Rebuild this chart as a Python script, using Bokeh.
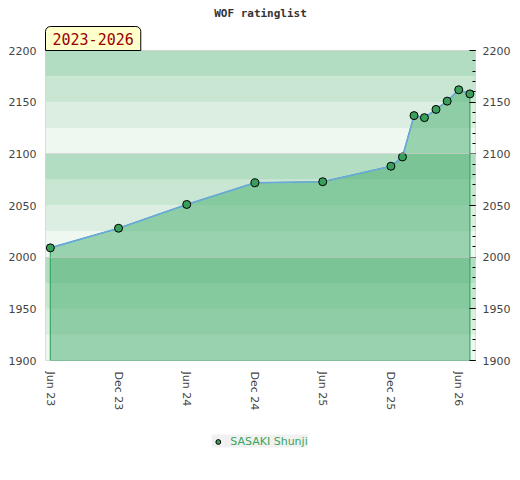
import numpy as np
import pandas as pd
from bokeh.plotting import figure
from bokeh.layouts import column
from bokeh.models import (Range1d, FixedTicker, DatetimeTickFormatter, LinearAxis,
                          Legend, LegendItem, Title)
from bokeh.embed import file_html
from bokeh.resources import INLINE

# ---- data ----
title_text = "WOF ratinglist"
period_text = "2023-2026"
player = "SASAKI Shunji"
dates = ["2023-06-01", "2023-12-01", "2024-06-01", "2024-12-01", "2025-06-01",
         "2025-12-01", "2026-01-01", "2026-02-01", "2026-03-01", "2026-04-01",
         "2026-05-01", "2026-06-01", "2026-07-01"]
ratings = [2009, 2028, 2051, 2072, 2073, 2088, 2097, 2137, 2135, 2143, 2151, 2162, 2158]
x_tick_dates = ["2023-06-01", "2023-12-01", "2024-06-01", "2024-12-01",
                "2025-06-01", "2025-12-01", "2026-06-01"]
y_ticks = [1900, 1950, 2000, 2050, 2100, 2150, 2200]

# ---- styling ----
band_shades = ["#eff7f1", "#dceee2", "#c9e6d3", "#b3ddc3"]  # bottom -> top in each 100 block
area_color = "#3aa862"
line_color = "#6aa8e0"
point_color = "#3a9f5c"
font = "DejaVu Sans"

dt = pd.to_datetime(dates)
x_start = pd.Timestamp("2023-05-19")
x_end = pd.Timestamp("2026-07-16")
y_min, y_max = y_ticks[0], y_ticks[-1]

p = figure(x_axis_type="datetime", output_backend="svg", toolbar_location=None,
           frame_width=430, frame_height=310,
           x_range=Range1d(x_start, x_end), y_range=Range1d(y_min, y_max),
           min_border_left=45, min_border_right=37, min_border_top=0,
           min_border_bottom=0)
p.background_fill_color = "white"
p.border_fill_color = "white"
p.outline_line_color = "#d6d6d6"

# bands
band_lo = np.arange(y_min, y_max, 25)
band_cols = [band_shades[int(((b - y_min) // 25) % 4)] for b in band_lo]
p.hbar(y=band_lo + 12.5, height=25, left=x_start, right=x_end,
       fill_color=band_cols, line_color=None)

# area
px = list(dt) + [dt[-1], dt[0]]
py = list(ratings) + [y_min, y_min]
p.patch(px, py, fill_color=area_color, fill_alpha=0.47,
        line_color=area_color, line_width=1.2)
p.line(dt, ratings, line_color=line_color, line_width=1.6)
marker_style = dict(size=8, fill_color=point_color, line_color="black", line_width=1)
pts = p.scatter(dt, ratings, **marker_style)

# grids
p.xgrid.visible = False
p.ygrid.ticker = FixedTicker(ticks=y_ticks[::2])
p.ygrid.grid_line_color = "#c8c8c8"
p.ygrid.grid_line_alpha = 0.6
p.ygrid.level = "overlay"

# left axis
ya = p.yaxis[0]
ya.ticker = FixedTicker(ticks=y_ticks)
ya.major_tick_line_color = None
ya.minor_tick_line_color = None
ya.major_tick_out = 0
ya.axis_line_color = None
ya.major_label_standoff = 9
ya.major_label_text_font = font
ya.major_label_text_font_size = "11px"
ya.major_label_text_color = "#444444"

# right axis
ra = LinearAxis(ticker=FixedTicker(ticks=y_ticks,
                                   minor_ticks=list(range(y_min, y_max + 1, 10))))
ra.major_tick_in = 6
ra.major_tick_out = 0
ra.minor_tick_in = 3
ra.minor_tick_out = 0
ra.major_tick_line_color = "black"
ra.minor_tick_line_color = "black"
ra.axis_line_color = None
ra.major_label_standoff = 7
ra.major_label_text_font = font
ra.major_label_text_font_size = "11px"
ra.major_label_text_color = "#444444"
p.add_layout(ra, "right")

# x axis
xa = p.xaxis[0]
xa.ticker = FixedTicker(ticks=[pd.Timestamp(d).value / 1e6 for d in x_tick_dates])
fmt = "%b %y"
xa.formatter = DatetimeTickFormatter(milliseconds=fmt, seconds=fmt, minsec=fmt,
                                     minutes=fmt, hourmin=fmt, hours=fmt, days=fmt,
                                     months=fmt, years=fmt)
xa.major_label_orientation = "vertical"
xa.major_tick_line_color = None
xa.minor_tick_line_color = None
xa.major_tick_out = 0
xa.axis_line_color = None
xa.major_label_standoff = 11
xa.major_label_text_font = font
xa.major_label_text_font_size = "11px"
xa.major_label_text_color = "#444444"

# period tag (closest to the frame)
tag = Title(text=period_text, align="left", text_font="DejaVu Sans Mono",
            text_font_size="15px", text_color="#990000", text_font_style="normal",
            background_fill_color="#ffffcc", border_line_color="black",
            border_line_width=1, padding=(7, 6), border_radius=(5, 5, 0, 0),
            standoff=0, offset=0)
p.add_layout(tag, "above")

# title
p.title.text = title_text
p.title.align = "center"
p.title.text_font = "DejaVu Sans Mono"
p.title.text_font_style = "bold"
p.title.text_font_size = "11px"
p.title.text_color = "#333333"
p.title.standoff = 9

# legend in a strip below the chart (its proxy points fall outside its view)
lg = figure(width=512, height=56, output_backend="svg", toolbar_location=None,
            x_range=Range1d(0, 1), y_range=Range1d(0, 1),
            x_axis_location=None, y_axis_location=None, min_border=0)
lg.outline_line_color = None
lg.grid.visible = False
lg.border_fill_color = "white"
lg.background_fill_color = "white"
lg_pts = lg.scatter(dt, ratings, **marker_style)
legend = Legend(items=[LegendItem(label=player, renderers=[lg_pts])],
                location="center", orientation="horizontal",
                background_fill_color="#f0f0f0", border_line_color=None,
                label_text_color="#3aa55a", label_text_font=font,
                label_text_font_size="11px", glyph_width=12, glyph_height=12,
                label_standoff=7, padding=5, margin=0)
lg.add_layout(legend)

layout = column(p, lg, spacing=0)
open("out.html", "w").write(file_html(layout, INLINE))
